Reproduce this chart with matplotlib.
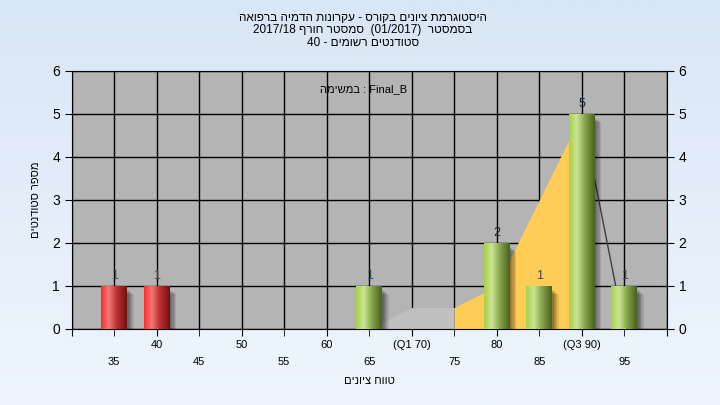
import re
import numpy as np
import matplotlib
matplotlib.use('Agg')
import matplotlib.pyplot as plt
from matplotlib.colors import LinearSegmentedColormap

plt.rcParams['font.family'] = ['Liberation Sans', 'DejaVu Sans']

# data
grades = [35, 40, 65, 80, 85, 90, 95]
counts = [1, 1, 1, 2, 1, 5, 1]
failing = [True, True, False, False, False, False, False]

gray_x = [65, 70, 75]
gray_y = [0, 0.5, 0.5]
yellow_x = [75, 80, 85, 90]
yellow_y = [0.5, 1.0, 3.0, 5.0]
tail_x = [90, 95]
tail_y = [5, 0]

major_ticks = [30, 40, 50, 60, 70, 80, 90, 100]
major_labels = ['', '40', '50', '60', '(Q1 70)', '80', '(Q3 90)', '']
minor_ticks = [35, 45, 55, 65, 75, 85, 95]
minor_labels = ['35', '45', '55', '65', '75', '85', '95']

title_lines = ['היסטוגרמת ציונים בקורס - עקרונות הדמיה ברפואה',
               'בסמסטר  (01/2017)  סמסטר חורף 2017/18',
               'סטודנטים רשומים - 40']
task_label = 'Final_B : במשימה'
x_title = 'טווח ציונים'
y_title = 'מספר סטודנטים'


def rtl(s):
    # matplotlib has no bidi: lay out a right-to-left line in visual order
    parts = re.findall(r'[A-Za-z0-9_/.]+|.', s)
    mirror = {'(': ')', ')': '('}
    return ''.join(mirror.get(p, p) for p in reversed(parts))


fig = plt.figure(figsize=(7.2, 4.05), dpi=100)

# background gradient
bg = fig.add_axes([0, 0, 1, 1], zorder=-10)
grad = np.linspace(0, 1, 256).reshape(-1, 1)
bg_cmap = LinearSegmentedColormap.from_list('bg', ['#d9e6f5', '#eef5fd'])
bg.imshow(grad, aspect='auto', cmap=bg_cmap, extent=[0, 1, 0, 1])
bg.axis('off')

ax = fig.add_axes([0.0996, 0.1877, 0.8264, 0.637])
ax.set_facecolor('#b4b4b4')

# areas
ax.fill_between(gray_x, gray_y, color='#c0c0c0', zorder=2, lw=0)
ax.fill_between(yellow_x, yellow_y, color='#ffcc55', zorder=2, lw=0)
ax.plot(tail_x, tail_y, color='#404040', lw=1, zorder=2)

# bars with cylinder shading
red_cmap = LinearSegmentedColormap.from_list(
    'r', [(0, '#ff2a2a'), (0.3, '#f07878'), (0.6, '#c03030'), (1, '#701010')])
green_cmap = LinearSegmentedColormap.from_list(
    'g', [(0, '#a8d048'), (0.3, '#cce494'), (0.6, '#8aa850'), (1, '#48601c')])
w = 3.0
bars = ax.bar(grades, counts, width=w, color='none', zorder=4)
hgrad = np.linspace(0, 1, 128).reshape(1, -1)
for b, f in zip(bars, failing):
    x0, y1 = b.get_x(), b.get_height()
    # shadow
    for k in range(5):
        off = 0.2 + 0.15 * k
        ax.add_patch(plt.Rectangle((x0 + off, -0.06 - 0.02 * k), w, y1 - 0.04,
                                   color='black', alpha=0.1, lw=0, zorder=3))
    ax.imshow(hgrad, aspect='auto', cmap=red_cmap if f else green_cmap,
              extent=[x0, x0 + w, 0, y1], zorder=4)
    ax.annotate(str(int(y1)), (x0 + w / 2, y1), xytext=(0, 3),
                textcoords='offset points', ha='center', va='bottom',
                fontsize=9, color='#1a2a3a' if y1 > 1 else '#3a4a5a', zorder=6)
ax.set_xlim(30, 100)
ax.set_ylim(0, 6)

# ticks and grid
ax.set_xticks(major_ticks)
ax.set_xticklabels(major_labels, fontsize=8)
ax.set_xticks(minor_ticks, minor=True)
ax.set_xticklabels(minor_labels, minor=True, fontsize=8)
ax.tick_params(axis='x', which='major', length=5, pad=3)
ax.tick_params(axis='x', which='minor', length=5, pad=15)
ax.set_yticks(range(7))
ax.tick_params(axis='y', which='major', length=5, labelsize=10,
               right=True, labelright=True)
ax.grid(True, which='both', color='black', lw=1, zorder=1)
ax.set_axisbelow(True)
for s in ax.spines.values():
    s.set_color('black')

ax.text(0.49, 0.95, rtl(task_label), transform=ax.transAxes,
        ha='center', va='top', fontsize=8, zorder=7)

ax.set_xlabel(rtl(x_title), fontsize=8, labelpad=7)
ax.set_ylabel(rtl(y_title), fontsize=8, labelpad=8)

for i, line in enumerate(title_lines):
    fig.text(363 / 720, 1 - (18 + 12.5 * i) / 405, rtl(line), ha='center',
             va='center', fontsize=8.5)

fig.savefig('out.png', dpi=100)
